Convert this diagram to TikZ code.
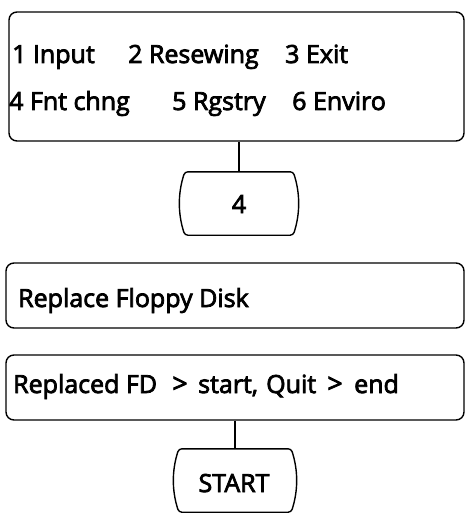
\documentclass[tikz,border=0pt]{standalone}
\usepackage{fontspec}
\setmainfont{Open Sans}
\newfontfamily\lblfont{Open Sans}[FakeBold=3]
\usetikzlibrary{calc}
\begin{document}
\begin{tikzpicture}[x=1pt,y=-1pt,
  panel/.style={draw, line width=1.4pt, rounded corners=8pt, inner sep=0pt},
  keyarea/.style={inner sep=0pt, minimum width=108pt, minimum height=63pt},
  keyline/.style={line width=1.4pt, rounded corners=3pt},
  wire/.style={line width=1.2pt},
  txt/.style={anchor=base west, inner sep=0pt, font=\lblfont\fontsize{25}{30}\selectfont},
  ctxt/.style={anchor=base, inner sep=0pt, font=\lblfont\fontsize{25}{30}\selectfont},
  gtxt/.style={anchor=base, inner sep=0pt, font=\lblfont\fontsize{27}{30}\selectfont}]
\useasboundingbox (0,0) rectangle (466,513);
% panels
\node[panel, minimum width=455pt, minimum height=129pt] (menu) at (236.5,76.5) {};
\node[panel, minimum width=458pt, minimum height=65pt] (repl) at (235,295.5) {};
\node[panel, minimum width=458pt, minimum height=65pt] (quit) at (235,387.5) {};
% keys
\node[keyarea] (k4) at (239,203.5) {};
\draw[keyline] (k4.south west) .. controls ($(k4.west)+(-7,10)$) and ($(k4.west)+(-7,-10)$) .. (k4.north west)
  -- (k4.north east) .. controls ($(k4.east)+(7,-10)$) and ($(k4.east)+(7,10)$) .. (k4.south east) -- cycle;
\node[keyarea, minimum width=112pt] (ks) at (235,480.5) {};
\draw[keyline] (ks.south west) .. controls ($(ks.west)+(-7,10)$) and ($(ks.west)+(-7,-10)$) .. (ks.north west)
  -- (ks.north east) .. controls ($(ks.east)+(7,-10)$) and ($(ks.east)+(7,10)$) .. (ks.south east) -- cycle;
% connectors
\draw[wire] (menu.south -| k4.north) -- (k4.north);
\draw[wire] (quit.south -| ks.north) -- (ks.north);
% texts
\node[txt] (t1) at (12,63) {1 Input};
\node[txt] (t2) at (128,63) {2 Resewing};
\node[txt] (t3) at (285,63) {3 Exit};
\node[txt] (t4) at (9,110) {4 Fnt chng};
\node[txt] (t5) at (172,110) {5 Rgstry};
\node[txt] (t6) at (292,110) {6 Enviro};
\node[txt] (t7) at (18,307) {Replace Floppy Disk};
\node[txt] (t8a) at (13,393) {Replaced FD};
\node[gtxt] (t8b) at (180,393) {>};
\node[txt] (t8c) at (198,393) {start,};
\node[txt] (t8d) at (266,393) {Quit};
\node[gtxt] (t8e) at (335,393) {>};
\node[txt] (t8f) at (354,393) {end};
\node[ctxt] (t9) at (239,213) {4};
\node[ctxt] (t10) at (234,492) {START};
\end{tikzpicture}
\end{document}
